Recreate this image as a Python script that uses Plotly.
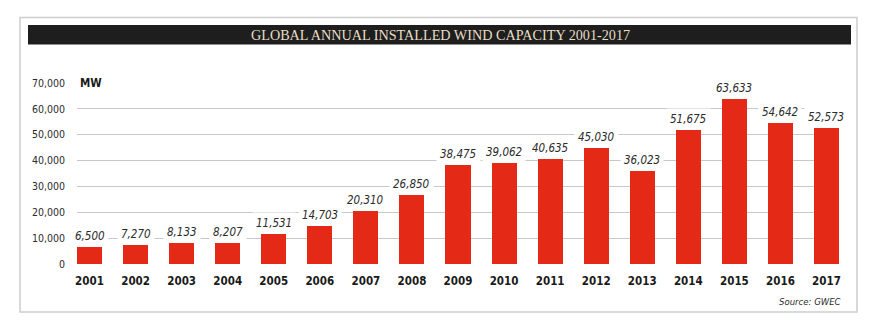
import plotly.graph_objects as go

years = ["2001", "2002", "2003", "2004", "2005", "2006", "2007", "2008", "2009",
         "2010", "2011", "2012", "2013", "2014", "2015", "2016", "2017"]
capacity_mw = [6500, 7270, 8133, 8207, 11531, 14703, 20310, 26850, 38475,
               39062, 40635, 45030, 36023, 51675, 63633, 54642, 52573]
y_ticks = [0, 10000, 20000, 30000, 40000, 50000, 60000, 70000]
y_tick_labels = ["0", "10,000", "20,000", "30,000", "40,000", "50,000", "60,000", "70,000"]
title_text = "GLOBAL ANNUAL INSTALLED WIND CAPACITY 2001-2017"
unit_text = "MW"
source_text = "Source: GWEC"

W, H = 883, 324
L, R, T, B = 77, 44, 83, 60
PW, PH = W - L - R, H - T - B


def px(x):
    return (x - L) / PW


def py(y):
    return (H - B - y) / PH


NARROW = "Liberation Sans Narrow, DejaVu Sans Condensed, Arial Narrow, sans-serif"
TXT = "#2b2b2b"
RED = "#e42a16"

n = len(years)
xs = list(range(n))
bw = 0.543

fig = go.Figure()
fig.add_trace(go.Bar(
    x=xs, y=capacity_mw, width=bw, marker=dict(color=RED, line=dict(width=0)),
    hoverinfo="x+y", showlegend=False,
))

annotations = []
for i, v in enumerate(capacity_mw):
    annotations.append(dict(
        x=i, y=v, xref="x", yref="y", text=f"<i>{v:,}</i>", showarrow=False,
        yanchor="bottom", xanchor="center", yshift=0,
        font=dict(family=NARROW, size=11.5, color=TXT),
        bgcolor="white", borderpad=3,
    ))

annotations.append(dict(
    x=px(76), y=1, xref="paper", yref="paper", text=f"<b>{unit_text}</b>",
    showarrow=False, xanchor="left", yanchor="middle",
    font=dict(family=NARROW, size=11.5, color="#1a1a1a"),
    bgcolor="white", borderpad=3,
))
annotations.append(dict(
    x=px(440), y=py(35), xref="paper", yref="paper", text=title_text,
    showarrow=False, xanchor="center", yanchor="middle",
    font=dict(family="Liberation Serif, Times New Roman, serif", size=14.2, color="#e8dfc4"),
))
annotations.append(dict(
    x=px(843), y=py(301), xref="paper", yref="paper", text=f"<i>{source_text}</i>",
    showarrow=False, xanchor="right", yanchor="middle",
    font=dict(family=NARROW, size=9.5, color=TXT),
))

shapes = [
    dict(type="rect", xref="paper", yref="paper", x0=px(20), x1=px(857),
         y0=py(312), y1=py(17.5), line=dict(color="#cdcdcd", width=1.5),
         fillcolor="rgba(0,0,0,0)", layer="below"),
    dict(type="rect", xref="paper", yref="paper", x0=px(28), x1=px(851),
         y0=py(44.5), y1=py(25), line=dict(width=0),
         fillcolor="#1e1e1e", layer="above"),
]

fig.update_layout(
    width=W, height=H,
    margin=dict(l=L, r=R, t=T, b=B, pad=0),
    paper_bgcolor="white", plot_bgcolor="white",
    annotations=annotations, shapes=shapes,
    bargap=0,
    xaxis=dict(
        range=[-bw / 2, n - 1 + bw / 2], tickvals=xs, ticktext=years,
        showgrid=False, zeroline=False, showline=False, ticks="",
        tickfont=dict(family=NARROW, size=11.5, color="#1a1a1a", weight="bold"),
        ticklabelstandoff=8, fixedrange=True,
    ),
    yaxis=dict(
        range=[0, 70000], tickvals=y_ticks, ticktext=y_tick_labels,
        showgrid=True, gridcolor="#c8c8c8", gridwidth=1.4,
        zeroline=True, zerolinecolor="white", zerolinewidth=3,
        showline=False, ticks="",
        tickfont=dict(family=NARROW, size=10.5, color=TXT),
        ticklabelstandoff=11, fixedrange=True,
    ),
    font=dict(family=NARROW),
)

fig.write_html("out.html")
